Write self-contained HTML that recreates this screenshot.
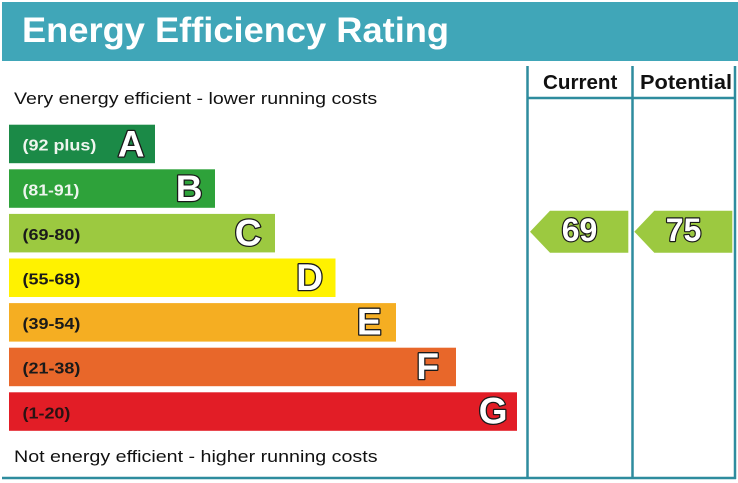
<!DOCTYPE html>
<html><head><meta charset="utf-8"><style>
html,body{margin:0;padding:0;background:#fff;}
svg{display:block;}
text{font-family:"Liberation Sans",Arial,sans-serif;}
</style></head><body>
<svg width="738" height="483" viewBox="0 0 738 483" xmlns="http://www.w3.org/2000/svg">
<rect x="0" y="0" width="738" height="483" fill="#fff"/>
<!-- header -->
<rect x="2" y="2" width="736" height="59" fill="#40a6b8"/>
<text transform="translate(22,42) scale(1.036,1)" font-size="35" font-weight="bold" fill="#fff">Energy Efficiency Rating</text>

<!-- column lines -->
<g stroke="#2e8c9e" stroke-width="2.5" fill="none">
<line x1="527.5" y1="66" x2="527.5" y2="479"/>
<line x1="632.5" y1="66" x2="632.5" y2="479"/>
<line x1="735" y1="66" x2="735" y2="479"/>
<line x1="527" y1="98" x2="736" y2="98"/>
<line x1="2" y1="478" x2="736" y2="478"/>
</g>
<text transform="translate(543,89) scale(1.03,1)" font-size="20" font-weight="bold" fill="#111">Current</text>
<text transform="translate(640,89) scale(1.09,1)" font-size="20" font-weight="bold" fill="#111">Potential</text>

<text transform="translate(14,104) scale(1.153,1)" font-size="17" fill="#111">Very energy efficient - lower running costs</text>
<text transform="translate(14,462) scale(1.157,1)" font-size="17" fill="#111">Not energy efficient - higher running costs</text>

<!-- bars -->
<rect x="9" y="124.7" width="146" height="38.5" fill="#1b8a47"/>
<rect x="9" y="169.3" width="206" height="38.5" fill="#2ea23a"/>
<rect x="9" y="213.9" width="266" height="38.5" fill="#9cc940"/>
<rect x="9" y="258.5" width="326.5" height="38.5" fill="#fff200"/>
<rect x="9" y="303.1" width="387" height="38.5" fill="#f5ae22"/>
<rect x="9" y="347.7" width="447" height="38.5" fill="#e8672a"/>
<rect x="9" y="392.3" width="508" height="38.5" fill="#e21d26"/>

<g font-size="15.5" font-weight="bold">
<text transform="translate(22.5,150.7) scale(1.16,1)" fill="#eef5ee">(92 plus)</text>
<text transform="translate(22.5,195.3) scale(1.14,1)" fill="#eef5ee">(81-91)</text>
<text transform="translate(22.5,239.9) scale(1.16,1)" fill="#1a1a1a">(69-80)</text>
<text transform="translate(22.5,284.5) scale(1.16,1)" fill="#1a1a1a">(55-68)</text>
<text transform="translate(22.5,329.1) scale(1.16,1)" fill="#1a1a1a">(39-54)</text>
<text transform="translate(22.5,373.7) scale(1.16,1)" fill="#1a1a1a">(21-38)</text>
<text transform="translate(22.5,418.3) scale(1.16,1)" fill="#2a1212">(1-20)</text>
</g>

<g font-size="37" font-weight="bold" fill="#fff" stroke="#1a1a1a" stroke-width="2.6" paint-order="stroke" stroke-linejoin="round" text-anchor="end">
<text x="144.5" y="156.5">A</text>
<text x="202.5" y="201">B</text>
<text x="261.5" y="245.5">C</text>
<text x="323" y="290">D</text>
<text x="381.5" y="334.5">E</text>
<text x="439" y="379">F</text>
<text x="507.5" y="423.5">G</text>
</g>

<!-- arrows -->
<polygon points="530,231.7 550,210.7 628.3,210.7 628.3,252.7 550,252.7" fill="#9cc940"/>
<polygon points="634.3,231.7 654.3,210.7 732.3,210.7 732.3,252.7 654.3,252.7" fill="#9cc940"/>
<g font-size="32" font-weight="bold" fill="#fff" stroke="#1a1a1a" stroke-width="2.4" paint-order="stroke" stroke-linejoin="round" text-anchor="middle">
<text x="579.5" y="241">69</text>
<text x="683.5" y="241">75</text>
</g>
</svg>
</body></html>
